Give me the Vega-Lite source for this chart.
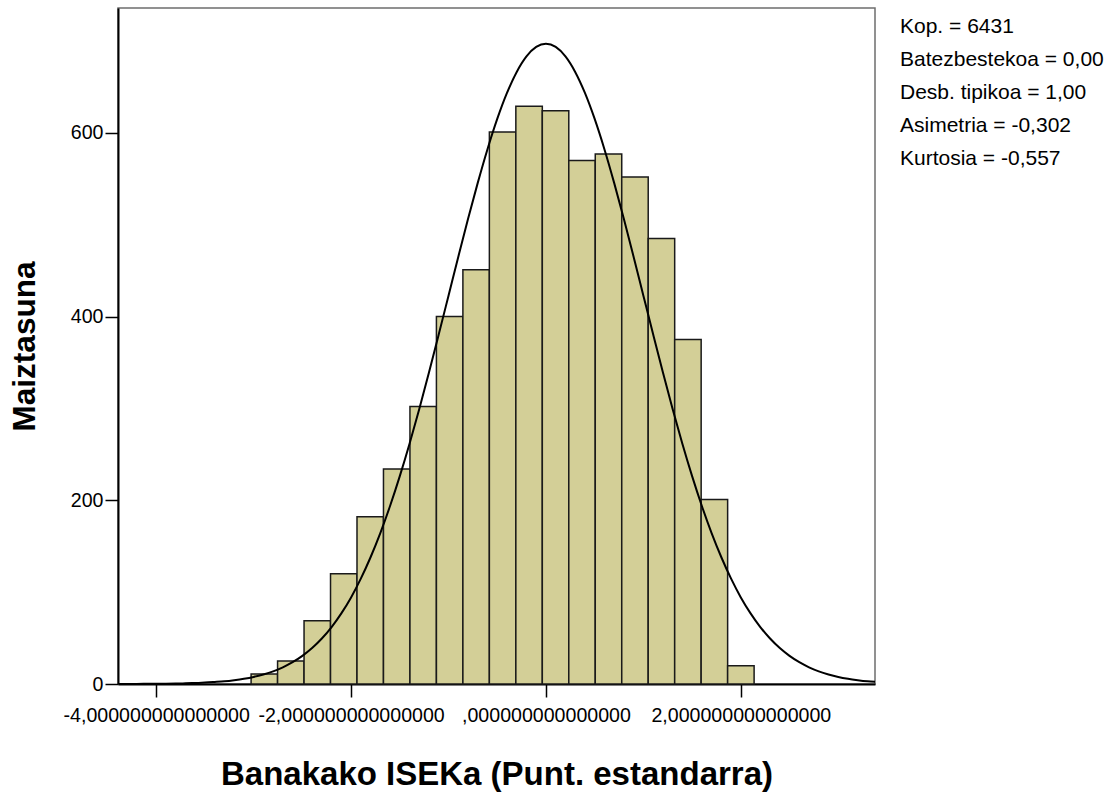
{
  "$schema": "https://vega.github.io/schema/vega-lite/v6.json",
  "width": 757,
  "height": 676,
  "autosize": {"type": "none"},
  "padding": {"left": 118, "top": 8, "right": 240, "bottom": 112},
  "background": "white",
  "config": {
    "font": "Liberation Sans",
    "view": {"fill": "#f0f0f0", "stroke": "#6e6e6e", "strokeWidth": 1.5}
  },
  "datasets": {
    "bins": [
      {"bin_start": -3.026, "bin_end": -2.7543, "count": 11},
      {"bin_start": -2.7543, "bin_end": -2.4826, "count": 25},
      {"bin_start": -2.4826, "bin_end": -2.2109, "count": 69},
      {"bin_start": -2.2109, "bin_end": -1.9392, "count": 120},
      {"bin_start": -1.9392, "bin_end": -1.6675, "count": 182},
      {"bin_start": -1.6675, "bin_end": -1.3958, "count": 234},
      {"bin_start": -1.3958, "bin_end": -1.1241, "count": 302},
      {"bin_start": -1.1241, "bin_end": -0.8524, "count": 400},
      {"bin_start": -0.8524, "bin_end": -0.5807, "count": 451},
      {"bin_start": -0.5807, "bin_end": -0.309, "count": 601},
      {"bin_start": -0.309, "bin_end": -0.0373, "count": 629},
      {"bin_start": -0.0373, "bin_end": 0.2344, "count": 624},
      {"bin_start": 0.2344, "bin_end": 0.5061, "count": 570},
      {"bin_start": 0.5061, "bin_end": 0.7778, "count": 577},
      {"bin_start": 0.7778, "bin_end": 1.0495, "count": 552},
      {"bin_start": 1.0495, "bin_end": 1.3212, "count": 485},
      {"bin_start": 1.3212, "bin_end": 1.5929, "count": 375},
      {"bin_start": 1.5929, "bin_end": 1.8646, "count": 201},
      {"bin_start": 1.8646, "bin_end": 2.1363, "count": 20}
    ],
    "curve": [
      {"x": -4.4, "y": 0.04}, {"x": -4.3, "y": 0.07}, {"x": -4.2, "y": 0.1}, {"x": -4.1, "y": 0.16},
      {"x": -4.0, "y": 0.23}, {"x": -3.9, "y": 0.35}, {"x": -3.8, "y": 0.5}, {"x": -3.7, "y": 0.7},
      {"x": -3.6, "y": 1.1}, {"x": -3.5, "y": 1.5}, {"x": -3.4, "y": 2.2}, {"x": -3.3, "y": 3.0},
      {"x": -3.2, "y": 4.2}, {"x": -3.1, "y": 5.7}, {"x": -3.0, "y": 7.7}, {"x": -2.9, "y": 10.4},
      {"x": -2.8, "y": 13.8}, {"x": -2.7, "y": 18.2}, {"x": -2.6, "y": 23.7}, {"x": -2.5, "y": 30.6},
      {"x": -2.4, "y": 39.1}, {"x": -2.3, "y": 49.5}, {"x": -2.2, "y": 62.0}, {"x": -2.1, "y": 76.9},
      {"x": -2.0, "y": 94.3}, {"x": -1.9, "y": 114.7}, {"x": -1.8, "y": 138.0}, {"x": -1.7, "y": 164.3},
      {"x": -1.6, "y": 193.8}, {"x": -1.5, "y": 226.3}, {"x": -1.4, "y": 261.6}, {"x": -1.3, "y": 299.4},
      {"x": -1.2, "y": 339.3}, {"x": -1.1, "y": 380.7}, {"x": -1.0, "y": 422.8}, {"x": -0.9, "y": 465.0},
      {"x": -0.8, "y": 506.2}, {"x": -0.7, "y": 545.6}, {"x": -0.6, "y": 582.3}, {"x": -0.5, "y": 615.2},
      {"x": -0.4, "y": 643.5}, {"x": -0.3, "y": 666.4}, {"x": -0.2, "y": 683.3}, {"x": -0.1, "y": 693.6},
      {"x": 0.0, "y": 697.1}, {"x": 0.1, "y": 693.6}, {"x": 0.2, "y": 683.3}, {"x": 0.3, "y": 666.4},
      {"x": 0.4, "y": 643.5}, {"x": 0.5, "y": 615.2}, {"x": 0.6, "y": 582.3}, {"x": 0.7, "y": 545.6},
      {"x": 0.8, "y": 506.2}, {"x": 0.9, "y": 465.0}, {"x": 1.0, "y": 422.8}, {"x": 1.1, "y": 380.7},
      {"x": 1.2, "y": 339.3}, {"x": 1.3, "y": 299.4}, {"x": 1.4, "y": 261.6}, {"x": 1.5, "y": 226.3},
      {"x": 1.6, "y": 193.8}, {"x": 1.7, "y": 164.3}, {"x": 1.8, "y": 138.0}, {"x": 1.9, "y": 114.7},
      {"x": 2.0, "y": 94.3}, {"x": 2.1, "y": 76.9}, {"x": 2.2, "y": 62.0}, {"x": 2.3, "y": 49.5},
      {"x": 2.4, "y": 39.1}, {"x": 2.5, "y": 30.6}, {"x": 2.6, "y": 23.7}, {"x": 2.7, "y": 18.2},
      {"x": 2.8, "y": 13.8}, {"x": 2.9, "y": 10.4}, {"x": 3.0, "y": 7.7}, {"x": 3.1, "y": 5.7},
      {"x": 3.2, "y": 4.2}, {"x": 3.3, "y": 3.0}, {"x": 3.4, "y": 2.2}
    ],
    "stats": [
      {"label": "Kop. = 6431"},
      {"label": "Batezbestekoa = 0,00"},
      {"label": "Desb. tipikoa = 1,00"},
      {"label": "Asimetria = -0,302"},
      {"label": "Kurtosia = -0,557"}
    ]
  },
  "layer": [
    {
      "data": {"name": "bins"},
      "mark": {"type": "bar", "fill": "#d3cf97", "stroke": "#1a1a1a", "strokeWidth": 1.5},
      "encoding": {
        "x": {
          "field": "bin_start", "type": "quantitative",
          "scale": {"domain": [-4.392, 3.377], "nice": false, "zero": false},
          "axis": {
            "values": [-4, -2, 0, 2],
            "labelExpr": "datum.value == -4 ? '-4,000000000000000' : datum.value == -2 ? '-2,000000000000000' : datum.value == 0 ? ',000000000000000' : '2,000000000000000'",
            "title": "Banakako ISEKa (Punt. estandarra)",
            "titleFont": "Liberation Sans", "titleFontSize": 33, "titleFontWeight": "bold", "titleColor": "black",
            "titlePadding": 34,
            "labelFont": "Liberation Sans", "labelFontSize": 19.6, "labelColor": "black", "labelLimit": 0,
            "labelOverlap": false, "labelFlush": false, "labelBound": false, "labelPadding": 9,
            "tickSize": 13, "tickColor": "black", "tickWidth": 1.5,
            "domainColor": "black", "domainWidth": 2, "grid": false
          }
        },
        "x2": {"field": "bin_end"},
        "y": {
          "field": "count", "type": "quantitative",
          "scale": {"domain": [0, 736], "nice": false},
          "axis": {
            "values": [0, 200, 400, 600],
            "title": "Maiztasuna",
            "titleFont": "Liberation Sans", "titleFontSize": 31.5, "titleFontWeight": "bold", "titleColor": "black",
            "titlePadding": 29,
            "labelFont": "Liberation Sans", "labelFontSize": 19.6, "labelColor": "black", "labelPadding": 2,
            "tickSize": 13, "tickColor": "black", "tickWidth": 1.5,
            "domainColor": "black", "domainWidth": 2, "grid": false
          }
        },
        "y2": {"datum": 0}
      }
    },
    {
      "data": {"name": "curve"},
      "mark": {"type": "line", "color": "black", "strokeWidth": 2, "clip": true, "interpolate": "monotone"},
      "encoding": {
        "x": {"field": "x", "type": "quantitative"},
        "y": {"field": "y", "type": "quantitative"}
      }
    },
    {
      "data": {"name": "stats"},
      "mark": {"type": "point", "opacity": 0},
      "encoding": {
        "color": {
          "field": "label", "type": "nominal", "sort": null,
          "scale": {"range": ["transparent"]},
          "legend": {
            "title": null, "orient": "right", "offset": -8, "padding": 8,
            "symbolSize": 0, "symbolOpacity": 0, "symbolStrokeWidth": 0, "labelOffset": 4,
            "labelFont": "Liberation Sans", "labelFontSize": 21, "labelColor": "black", "labelLimit": 0,
            "rowPadding": 11
          }
        }
      }
    }
  ]
}
